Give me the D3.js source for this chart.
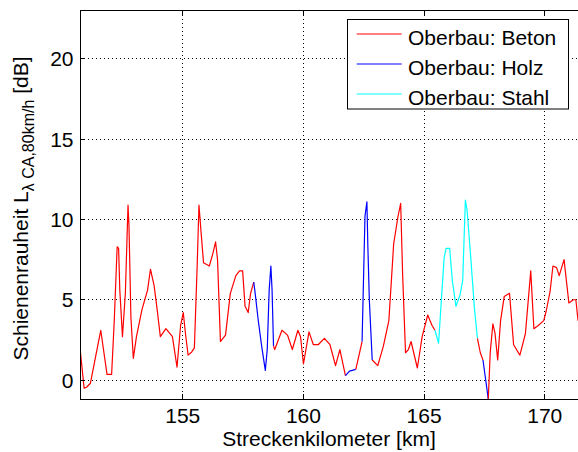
<!DOCTYPE html>
<html><head><meta charset="utf-8">
<script src="https://cdn.jsdelivr.net/npm/d3@7"></script>
<style>
html,body{margin:0;padding:0;background:#fff;}
svg{display:block;font-family:"Liberation Sans",Arial,sans-serif;}
</style></head>
<body>
<svg id="chart" width="578" height="452"></svg>
<script>
// Streckenkilometer [km]
const km = [150.74,150.91,151.01,151.17,151.60,151.86,152.05,152.16,152.28,152.34,
  152.39,152.50,152.62,152.73,152.77,152.85,152.95,153.08,153.31,153.54,
  153.66,153.81,153.92,154.07,154.30,154.57,154.76,154.91,155.02,155.11,
  155.22,155.37,155.48,155.60,155.67,155.75,155.86,156.10,156.25,156.36,
  156.44,156.56,156.77,156.97,157.20,157.35,157.48,157.58,157.71,157.81,
  157.94,158.00,158.12,158.27,158.42,158.50,158.58,158.65,158.70,158.76,
  158.81,159.11,159.34,159.54,159.77,159.88,160.00,160.23,160.41,160.61,
  160.87,161.10,161.33,161.51,161.74,161.91,162.17,162.43,162.55,162.63,
  162.67,162.73,162.85,163.08,163.31,163.54,163.74,163.92,164.03,164.11,
  164.23,164.35,164.46,164.72,164.92,165.15,165.33,165.45,165.60,165.83,
  165.91,166.06,166.17,166.32,166.49,166.60,166.71,166.78,166.94,167.09,
  167.21,167.33,167.44,167.59,167.66,167.74,167.85,167.94,168.05,168.17,
  168.32,168.54,168.71,168.97,169.20,169.42,169.55,169.73,169.96,170.06,
  170.22,170.34,170.49,170.60,170.80,171.00,171.18,171.29,171.38];
// Schienenrauheit [dB]
const roughness = [2.0,-0.5,-0.45,-0.2,3.1,0.35,0.35,3.7,8.3,8.2,
  5.6,2.7,5.4,10.9,9.6,3.9,1.35,2.7,4.4,5.6,
  6.9,5.9,4.6,2.7,3.2,2.7,0.8,3.4,4.2,2.9,
  1.55,1.75,2.0,7.3,10.9,9.35,7.3,7.1,7.9,8.6,
  7.5,2.4,2.8,5.4,6.5,6.8,6.8,4.6,4.2,5.4,
  6.1,5.4,3.8,2.1,0.6,1.9,5.6,7.1,5.6,2.1,
  1.9,3.1,2.8,1.9,3.1,2.7,1.0,3.0,2.2,2.2,
  2.6,2.2,0.9,1.9,0.27,0.56,0.66,2.4,10.2,11.1,
  8.3,5.0,1.25,0.9,2.1,3.7,8.5,10.2,11.0,6.6,
  1.7,1.9,2.4,0.75,2.7,4.05,3.4,3.1,2.3,7.6,
  8.2,8.2,6.2,4.6,5.3,6.2,11.2,10.6,7.5,4.4,
  2.6,1.7,1.25,-0.4,-1.2,1.7,3.5,2.9,1.25,3.7,
  5.2,5.4,2.2,1.55,2.9,6.8,3.2,3.4,3.7,4.3,
  5.5,7.1,7.0,6.5,7.5,4.8,5.0,5.0,3.7];
// Oberbau type of the segment starting at each point (B=Beton, H=Holz, S=Stahl)
const track = "BBBBBBBBBBBBBBBBBBBBBBBBBBBBBBBBBBBBBBBBBBBBBBBBBBHHHHHHHHHBBBBBBBBBBBBBBBHHBHHHHHBBBBBBBBBBBBBBBSSSSSSSSSSSSSBBHHBBBBBBBBBBBBBBBBBBBBBBBBBB".split("");
const seriesNames = {B:"Oberbau: Beton", H:"Oberbau: Holz", S:"Oberbau: Stahl"};
const seriesOrder = ["B","H","S"];
const xTicks = [155,160,165,170];
const yTicks = [0,5,10,15,20];

const colors = {B:"#ff0000", H:"#0000ff", S:"#00ffff"};
const svg = d3.select("#chart");
const L = 80, R = 580, T = 10.7, B = 399;
const x = d3.scaleLinear().domain([150.74, 150.74 + (R - L) / 24.13]).range([L, R]);
const y = d3.scaleLinear().domain([-1.18, 23]).range([B, T]);

svg.append("defs").append("clipPath").attr("id","clip")
  .append("rect").attr("x",L).attr("y",T).attr("width",R-L).attr("height",B-T);

// grid
const grid = svg.append("g");
xTicks.forEach(t => grid.append("line").attr("x1",x(t)).attr("x2",x(t)).attr("y1",T).attr("y2",B)
  .attr("stroke","#000").attr("stroke-width",1).attr("stroke-dasharray","1,3").attr("shape-rendering","crispEdges"));
yTicks.forEach(t => grid.append("line").attr("x1",L).attr("x2",R).attr("y1",y(t)).attr("y2",y(t))
  .attr("stroke","#000").attr("stroke-width",1).attr("stroke-dasharray","1,3").attr("shape-rendering","crispEdges"));

// data segments
const pts = km.map((k,i)=>({k, v:roughness[i], t:track[i]}));
const dataG = svg.append("g").attr("clip-path","url(#clip)");
const line = d3.line().x(d=>x(d.k)).y(d=>y(d.v));
let runs = [], cur = null;
for (let i=0;i<pts.length-1;i++){
  const t = pts[i].t;
  if (!cur || cur.t!==t){ cur = {t, p:[pts[i]]}; runs.push(cur); }
  cur.p.push(pts[i+1]);
}
runs.forEach(r => dataG.append("path").attr("d", line(r.p)).attr("fill","none")
  .attr("stroke", colors[r.t]).attr("stroke-width",1.2).attr("stroke-linejoin","round"));

// axes box
const ax = svg.append("g").attr("stroke","#000").attr("stroke-width",1).attr("shape-rendering","crispEdges");
ax.append("line").attr("x1",L).attr("x2",L).attr("y1",T).attr("y2",B);
ax.append("line").attr("x1",L).attr("x2",R).attr("y1",B).attr("y2",B);
ax.append("line").attr("x1",L).attr("x2",R).attr("y1",T).attr("y2",T);
ax.append("line").attr("x1",R).attr("x2",R).attr("y1",T).attr("y2",B);
xTicks.forEach(t => {
  ax.append("line").attr("x1",x(t)).attr("x2",x(t)).attr("y1",B).attr("y2",B-5);
  ax.append("line").attr("x1",x(t)).attr("x2",x(t)).attr("y1",T).attr("y2",T+5);
});
yTicks.forEach(t => {
  ax.append("line").attr("x1",L).attr("x2",L+5).attr("y1",y(t)).attr("y2",y(t));
});

// tick labels
const fs = 21;
xTicks.forEach(t => svg.append("text").attr("x",x(t)).attr("y",423).attr("text-anchor","middle")
  .attr("font-size",fs).attr("fill","#000").text(t));
yTicks.forEach(t => svg.append("text").attr("x",73.5).attr("y",y(t)).attr("dy","0.36em").attr("text-anchor","end")
  .attr("font-size",fs).attr("fill","#000").text(t));

// axis labels
svg.append("text").attr("x",(L+578)/2).attr("y",445.5).attr("text-anchor","middle")
  .attr("font-size",fs).attr("fill","#000").text("Streckenkilometer [km]");
const yl = svg.append("text").attr("transform","translate(27.5,208.5) rotate(-90)")
  .attr("text-anchor","middle").attr("font-size",fs).attr("fill","#000");
yl.append("tspan").text("Schienenrauheit L");
yl.append("tspan").attr("font-size",16).attr("dy",6).text("λ CA,80km/h");
yl.append("tspan").attr("dy",-6).text(" [dB]");

// legend
const lg = svg.append("g");
lg.append("rect").attr("x",347.5).attr("y",19.5).attr("width",221).attr("height",89.5)
  .attr("fill","#fff").attr("stroke","#000").attr("stroke-width",1);
seriesOrder.forEach((s,i) => {
  const yy = 34 + i*30;
  lg.append("line").attr("x1",356.7).attr("x2",401.7).attr("y1",yy).attr("y2",yy)
    .attr("stroke",colors[s]).attr("stroke-width",1.2);
  lg.append("text").attr("x",408).attr("y",yy+11).attr("font-size",fs).attr("fill","#000").text(seriesNames[s]);
});
</script>
</body></html>
